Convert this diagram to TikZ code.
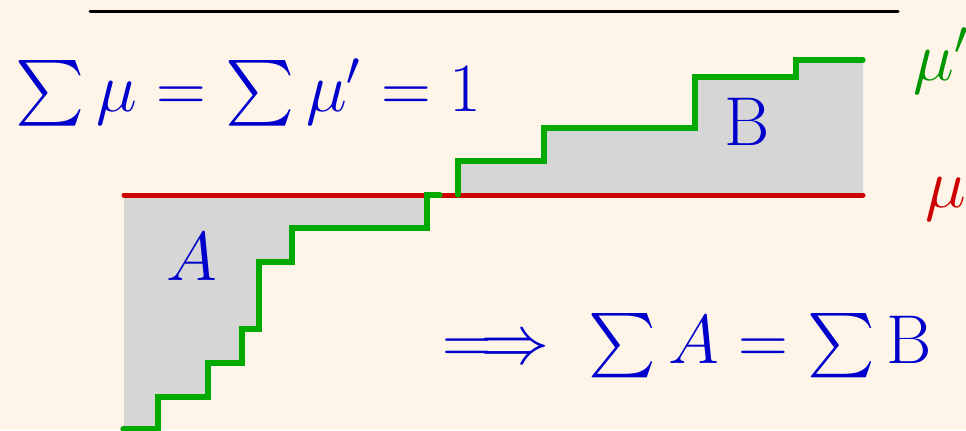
\documentclass[tikz,border=0pt]{standalone}
\usepackage{amsmath,amssymb}
\usepackage{tikz}

\definecolor{bgcream}{RGB}{254,245,232}
\definecolor{txtblue}{RGB}{0,0,204}
\definecolor{stepgreen}{RGB}{0,170,0}
\definecolor{labgreen}{RGB}{0,150,0}
\definecolor{linered}{RGB}{204,0,0}
\definecolor{areagray}{RGB}{214,214,214}

\begin{document}
\begin{tikzpicture}[x=0.3pt,y=-0.3pt,
    bluetext/.style={text=txtblue,inner sep=0pt,font=\fontsize{20}{24}\selectfont},
    lab/.style={inner sep=0pt,font=\fontsize{20}{24}\selectfont}]
            \useasboundingbox (0,0) rectangle (966,430);
            \fill[bgcream] (0,0) rectangle (966,430);
            \draw[line width=0.9pt,line cap=round] (90,11)--(898,11);
            % shaded areas
            \fill[areagray] (124,195)--(427,195)--(427,228)--(292,228)--(292,262)--(259,262)--(259,329)--(242,329)--(242,363)--(208,363)--(208,397)--(158,397)--(158,430)--(124,430)--cycle;
            \fill[areagray] (458,195)--(458,161)--(544,161)--(544,128)--(695,128)--(695,77)--(796,77)--(796,60)--(863,60)--(863,195)--cycle;
            \draw[line width=1.5pt,linered,line cap=round] (124,195)--(863,195);
            \draw[line width=1.6pt,stepgreen,line cap=round] (123,429)--(158,429)--(158,397)--(208,397)--(208,363)--(242,363)--(242,329)--(259,329)--(259,262)--(292,262)--(292,228)--(427,228)--(427,195)--(440,195);
            \draw[line width=1.6pt,stepgreen,line cap=round] (458,195)--(458,161)--(544,161)--(544,128)--(695,128)--(695,77)--(796,77)--(796,60)--(863,60);
            % labels
            \node[bluetext,anchor=base west,font=\fontsize{19.7}{24}\selectfont] (total) at (15,111) {$\sum\mu=\sum\mu'=1$};
            \node[bluetext,anchor=base] (areaA) at (192,280) {$A$};
            \node[bluetext,anchor=base] (areaB) at (747,145) {$\mathrm{B}$};
            \node[lab,text=labgreen,anchor=base west] (muprime) at (913,80) {$\mu'$};
            \node[lab,text=linered,anchor=base west] (mu) at (925,207) {$\mu$};
            \node[bluetext,anchor=base west,font=\fontsize{19.3}{24}\selectfont] (concl) at (442,363) {$\Longrightarrow\ \sum A=\sum\mathrm{B}$};
        \end{tikzpicture}
\end{document}
